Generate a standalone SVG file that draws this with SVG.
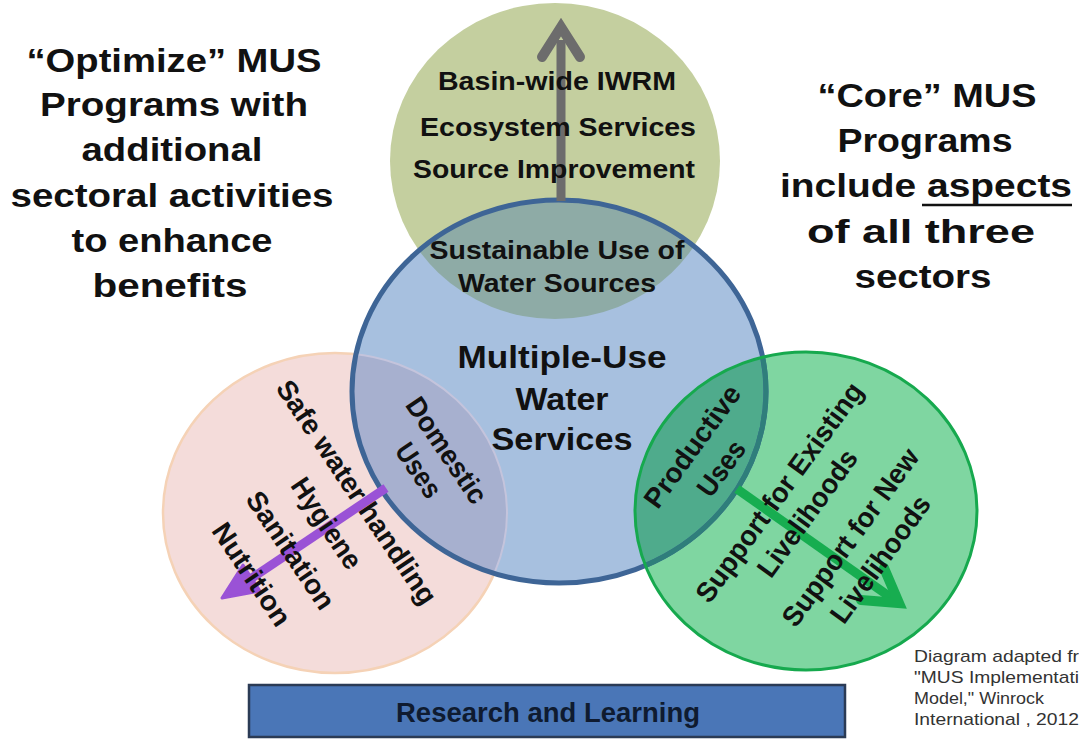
<svg xmlns="http://www.w3.org/2000/svg" width="1079" height="740" viewBox="0 0 1079 740">
  <defs>
    <style>
      text { font-family: "Liberation Sans", Arial, sans-serif; fill: #111; }
      .note { font-size: 34px; font-weight: bold; text-anchor: middle; }
      .mid { font-size: 32px; font-weight: bold; text-anchor: middle; }
      .lbl { font-size: 26px; font-weight: bold; text-anchor: middle; }
      .rot { font-size: 28px; font-weight: bold; text-anchor: middle; }
      .bar { font-size: 27px; font-weight: bold; text-anchor: middle; fill: #0f1b30; }
      .cap { font-size: 17px; fill: #333; }
      .shaft { fill: none; stroke-linecap: butt; }
      .head { fill: none; stroke-linejoin: miter; stroke-miterlimit: 10; stroke-linecap: round; }
    </style>
    <ellipse id="shpTop" cx="555" cy="161" rx="165" ry="158"/>
    <ellipse id="shpMid" cx="559" cy="391.5" rx="207" ry="191.5"/>
    <ellipse id="shpLeft" cx="335" cy="513" rx="172" ry="160"/>
    <ellipse id="shpRight" cx="806" cy="511" rx="171" ry="159"/>
    <clipPath id="clipMid"><use href="#shpMid"/></clipPath>
    <clipPath id="clipRight"><use href="#shpRight"/></clipPath>
  </defs>

  <rect width="1079" height="740" fill="#ffffff"/>

  <!-- water resources circle -->
  <g id="node-resources">
    <use href="#shpTop" fill="#c4cf9f"/>
  </g>

  <!-- domestic circle -->
  <g id="node-domestic">
    <use href="#shpLeft" fill="#f4dcda" stroke="#f5d2b6" stroke-width="2.5"/>
  </g>

  <!-- productive circle fill -->
  <g id="node-productive">
    <use href="#shpRight" fill="#7fd6a1"/>
  </g>

  <!-- multiple-use services circle and overlaps -->
  <g id="node-mus">
    <use href="#shpMid" fill="#a7c0df"/>
    <g clip-path="url(#clipMid)">
      <use href="#shpTop" fill="#8eaba6"/>
      <use href="#shpLeft" fill="#a7b0cf"/>
      <use href="#shpLeft" fill="none" stroke="#c4c4dc" stroke-width="2"/>
      <use href="#shpRight" fill="#4fab8c"/>
    </g>
    <use href="#shpMid" fill="none" stroke="#3e6596" stroke-width="5"/>
    <g clip-path="url(#clipRight)">
      <use href="#shpMid" fill="none" stroke="#2f7e7b" stroke-width="5"/>
    </g>
    <use href="#shpRight" fill="none" stroke="#16a94e" stroke-width="3"/>
  </g>

  <!-- connectors -->
  <g id="connectors">
    <path class="shaft" d="M561,201 V40" stroke="#6c6c6c" stroke-width="9"/>
    <path class="head" d="M542,57 L561,27 L580,57" stroke="#6c6c6c" stroke-width="10"/>

    <path class="shaft" d="M386,488 L246,582" stroke="#9a52d6" stroke-width="9"/>
    <path d="M222,598 L260,591 L243,565 Z" fill="#9a52d6" stroke="#9a52d6" stroke-width="3" stroke-linejoin="round"/>

    <path class="shaft" d="M737,489 L893,599" stroke="#17ad50" stroke-width="9"/>
    <path class="head" d="M884,568 L899,603 L861,600" stroke="#17ad50" stroke-width="10"/>
  </g>

  <!-- labels of the resources circle -->
  <g id="label-resources">
    <text class="lbl" x="557" y="90" textLength="238" lengthAdjust="spacingAndGlyphs">Basin-wide IWRM</text>
    <text class="lbl" x="558" y="136" textLength="276" lengthAdjust="spacingAndGlyphs">Ecosystem Services</text>
    <text class="lbl" x="554" y="178" textLength="282" lengthAdjust="spacingAndGlyphs">Source Improvement</text>
    <text class="lbl" x="557" y="259" textLength="255" lengthAdjust="spacingAndGlyphs">Sustainable Use of</text>
    <text class="lbl" x="557" y="292" textLength="198" lengthAdjust="spacingAndGlyphs">Water Sources</text>
  </g>

  <!-- label of the central circle -->
  <g id="label-mus">
    <text class="mid" x="562" y="368" textLength="209" lengthAdjust="spacingAndGlyphs">Multiple-Use</text>
    <text class="mid" x="562" y="410" textLength="93" lengthAdjust="spacingAndGlyphs">Water</text>
    <text class="mid" x="562" y="450" textLength="141" lengthAdjust="spacingAndGlyphs">Services</text>
  </g>

  <!-- domestic labels (rotated) -->
  <g id="label-domestic">
    <text class="rot" transform="translate(447,450) rotate(56)" y="10" textLength="122" lengthAdjust="spacingAndGlyphs">Domestic</text>
    <text class="rot" transform="translate(419,470) rotate(56)" y="10" textLength="60" lengthAdjust="spacingAndGlyphs">Uses</text>
    <text class="rot" transform="translate(357,492) rotate(56)" y="10" textLength="264" lengthAdjust="spacingAndGlyphs">Safe water handling</text>
    <text class="rot" transform="translate(327,523) rotate(56)" y="10" textLength="104" lengthAdjust="spacingAndGlyphs">Hygiene</text>
    <text class="rot" transform="translate(291,550) rotate(56)" y="10" textLength="136" lengthAdjust="spacingAndGlyphs">Sanitation</text>
    <text class="rot" transform="translate(252,574) rotate(56)" y="10" textLength="118" lengthAdjust="spacingAndGlyphs">Nutrition</text>
  </g>

  <!-- productive labels (rotated) -->
  <g id="label-productive">
    <text class="rot" transform="translate(692,446) rotate(-54)" y="10" textLength="144" lengthAdjust="spacingAndGlyphs">Productive</text>
    <text class="rot" transform="translate(721,468) rotate(-54)" y="10" textLength="62" lengthAdjust="spacingAndGlyphs">Uses</text>
    <text class="rot" transform="translate(779,492) rotate(-54)" y="10" textLength="264" lengthAdjust="spacingAndGlyphs">Support for Existing</text>
    <text class="rot" transform="translate(807,513) rotate(-54)" y="10" textLength="150" lengthAdjust="spacingAndGlyphs">Livelihoods</text>
    <text class="rot" transform="translate(850,537) rotate(-54)" y="10" textLength="212" lengthAdjust="spacingAndGlyphs">Support for New</text>
    <text class="rot" transform="translate(880,559) rotate(-54)" y="10" textLength="150" lengthAdjust="spacingAndGlyphs">Livelihoods</text>
  </g>

  <!-- side notes -->
  <g id="note-optimize">
    <text class="note" x="174" y="72" textLength="295" lengthAdjust="spacingAndGlyphs">“Optimize” MUS</text>
    <text class="note" x="174" y="116" textLength="268" lengthAdjust="spacingAndGlyphs">Programs with</text>
    <text class="note" x="172" y="161" textLength="181" lengthAdjust="spacingAndGlyphs">additional</text>
    <text class="note" x="172" y="207" textLength="323" lengthAdjust="spacingAndGlyphs">sectoral activities</text>
    <text class="note" x="172" y="252" textLength="201" lengthAdjust="spacingAndGlyphs">to enhance</text>
    <text class="note" x="170" y="297" textLength="155" lengthAdjust="spacingAndGlyphs">benefits</text>
  </g>

  <g id="note-core">
    <text class="note" x="927" y="107" textLength="219" lengthAdjust="spacingAndGlyphs">“Core” MUS</text>
    <text class="note" x="925" y="152" textLength="175" lengthAdjust="spacingAndGlyphs">Programs</text>
    <text class="note" x="926" y="197" textLength="292" lengthAdjust="spacingAndGlyphs">include aspects</text>
    <line x1="922" y1="205" x2="1072" y2="205" stroke="#111" stroke-width="2.5"/>
    <text class="note" x="921" y="243" textLength="228" lengthAdjust="spacingAndGlyphs">of all three</text>
    <text class="note" x="923" y="288" textLength="137" lengthAdjust="spacingAndGlyphs">sectors</text>
  </g>

  <!-- research bar -->
  <g id="node-research">
    <rect x="249" y="685" width="596" height="52" fill="#4a76b7" stroke="#2b3b55" stroke-width="2.5"/>
    <text class="bar" x="548" y="722" textLength="304" lengthAdjust="spacingAndGlyphs">Research and Learning</text>
  </g>

  <!-- source note -->
  <g id="caption">
    <text class="cap" x="914" y="662" textLength="165" lengthAdjust="spacingAndGlyphs">Diagram adapted fr</text>
    <text class="cap" x="914" y="683" textLength="165" lengthAdjust="spacingAndGlyphs">"MUS Implementati</text>
    <text class="cap" x="914" y="704" textLength="130" lengthAdjust="spacingAndGlyphs">Model," Winrock</text>
    <text class="cap" x="914" y="725" textLength="165" lengthAdjust="spacingAndGlyphs">International , 2012</text>
  </g>
</svg>
